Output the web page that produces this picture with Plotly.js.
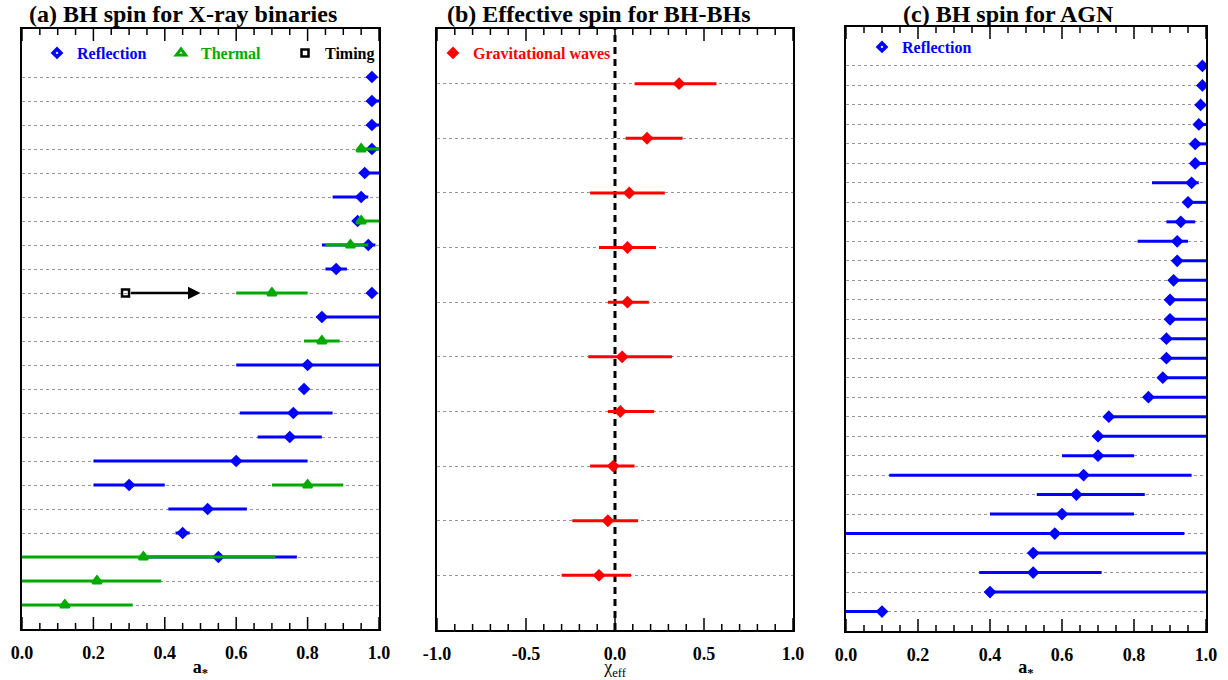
<!DOCTYPE html>
<html>
<head>
<meta charset="utf-8">
<script src="https://cdn.plot.ly/plotly-3.0.1.min.js"></script>
<style>html,body{margin:0;padding:0;background:#fff;}#chart{width:1228px;height:680px;}</style>
</head>
<body>
<div id="chart"></div>
<script>
// ---------- Panel (a): BH spin for X-ray binaries ----------
const xrbRows = [1,2,3,4,5,6,7,8,9,10,11,12,13,14,15,16,17,18,19,20,21,22,23];
const xrbYRange = [0, 25];

const reflRowsA  = [3, 4, 5, 6, 7, 8, 9, 10, 11, 13, 14, 15, 16, 17, 18, 19, 20, 21, 22, 23];
const reflValA   = [0.55, 0.45, 0.52, 0.30, 0.60, 0.75, 0.76, 0.79, 0.80, 0.84, 0.98, 0.88, 0.97, 0.94, 0.95, 0.96, 0.98, 0.98, 0.98, 0.98];
const reflMinusA = [0.22, 0.02, 0.11, 0.10, 0.40, 0.09, 0.15, 0.01, 0.20, 0.01, 0.01, 0.03, 0.13, 0.01, 0.08, 0.01, 0.01, 0.01, 0.01, 0.01];
const reflPlusA  = [0.22, 0.02, 0.11, 0.10, 0.20, 0.09, 0.11, 0.01, 0.20, 0.16, 0.01, 0.03, 0.02, 0.01, 0.02, 0.04, 0.02, 0.02, 0.02, 0.01];

const thermRows  = [1, 2, 3, 6, 12, 14, 16, 17, 20];
const thermVal   = [0.12, 0.21, 0.34, 0.80, 0.84, 0.70, 0.92, 0.95, 0.95];
const thermMinus = [0.12, 0.21, 0.34, 0.10, 0.05, 0.10, 0.07, 0.01, 0.01];
const thermPlus  = [0.19, 0.18, 0.37, 0.10, 0.05, 0.10, 0.05, 0.05, 0.05];

const timingRows     = [14];
const timingVal      = [0.29];
const timingArrowEnd = [0.50];

// ---------- Panel (b): Effective spin for BH-BHs ----------
const gwRows  = [1, 2, 3, 4, 5, 6, 7, 8, 9, 10];
const gwYRange = [0, 11];
const gwVal   = [-0.09, -0.04, -0.01, 0.03, 0.04, 0.07, 0.07, 0.08, 0.18, 0.36];
const gwMinus = [0.21, 0.20, 0.13, 0.07, 0.19, 0.11, 0.16, 0.22, 0.12, 0.25];
const gwPlus  = [0.18, 0.17, 0.12, 0.19, 0.28, 0.12, 0.16, 0.20, 0.20, 0.21];
const chiZero = 0;

// ---------- Panel (c): BH spin for AGN ----------
const agnRows  = [1,2,3,4,5,6,7,8,9,10,11,12,13,14,15,16,17,18,19,20,21,22,23,24,25,26,27,28,29];
const agnYRange = [0, 31];
const agnVal   = [0.10, 0.40, 0.52, 0.52, 0.58, 0.60, 0.64, 0.66, 0.70, 0.70, 0.73, 0.84, 0.88, 0.89, 0.89, 0.90, 0.90, 0.91, 0.92, 0.92, 0.93, 0.95, 0.96, 0.97, 0.97, 0.98, 0.985, 0.99, 0.99];
const agnMinus = [0.10, 0.01, 0.15, 0.01, 0.58, 0.20, 0.11, 0.54, 0.10, 0.01, 0.01, 0.01, 0.01, 0.01, 0.01, 0.01, 0.01, 0.01, 0.01, 0.11, 0.04, 0.01, 0.11, 0.01, 0.01, 0.01, 0.005, 0.005, 0.005];
const agnPlus  = [0.01, 0.60, 0.19, 0.48, 0.36, 0.20, 0.19, 0.30, 0.10, 0.30, 0.27, 0.16, 0.12, 0.11, 0.11, 0.10, 0.10, 0.09, 0.08, 0.03, 0.04, 0.05, 0.02, 0.03, 0.03, 0.02, 0.01, 0.01, 0.01];

// ---------- Tick labels ----------
const spinTickVals = [0, 0.2, 0.4, 0.6, 0.8, 1.0];
const spinTickText = ['0.0', '0.2', '0.4', '0.6', '0.8', '1.0'];
const chiTickVals  = [-1, -0.5, 0, 0.5, 1];
const chiTickText  = ['-1.0', '-0.5', '0.0', '0.5', '1.0'];

const BLUE = 'rgb(0,0,255)';
const GREEN = 'rgb(0,170,0)';
const RED = 'rgb(255,0,0)';
const SERIF = 'Liberation Serif';

function errX(plus, minus, color) {
  return {type: 'data', symmetric: false, array: plus, arrayminus: minus,
          width: 0, thickness: 3, color: color};
}

const traces = [
  {x: reflValA, y: reflRowsA, xaxis: 'x', yaxis: 'y', mode: 'markers', type: 'scatter',
   name: '<span style="color:rgb(0,0,255)">Reflection</span>', legend: 'legend',
   marker: {symbol: 'diamond-open', size: 6, color: BLUE, line: {width: 3.5, color: BLUE}},
   error_x: errX(reflPlusA, reflMinusA, BLUE)},
  {x: thermVal, y: thermRows, xaxis: 'x', yaxis: 'y', mode: 'markers', type: 'scatter',
   name: '<span style="color:rgb(0,170,0)">Thermal</span>', legend: 'legend',
   marker: {symbol: 'triangle-up-open', size: 8, color: GREEN, line: {width: 3, color: GREEN}},
   error_x: errX(thermPlus, thermMinus, GREEN)},
  {x: timingVal, y: timingRows, xaxis: 'x', yaxis: 'y', mode: 'markers', type: 'scatter',
   name: '<span style="color:black">Timing</span>', legend: 'legend',
   marker: {symbol: 'square-open', size: 7, color: 'black', line: {width: 2.5, color: 'black'}}},
  {x: gwVal, y: gwRows, xaxis: 'x2', yaxis: 'y2', mode: 'markers', type: 'scatter',
   name: '<span style="color:rgb(255,0,0)">Gravitational waves</span>', legend: 'legend2',
   marker: {symbol: 'diamond-open', size: 5, color: RED, line: {width: 4.5, color: RED}},
   error_x: errX(gwPlus, gwMinus, RED)},
  {x: agnVal, y: agnRows, xaxis: 'x3', yaxis: 'y3', mode: 'markers', type: 'scatter',
   name: '<span style="color:rgb(0,0,255)">Reflection</span>', legend: 'legend3',
   marker: {symbol: 'diamond-open', size: 6, color: BLUE, line: {width: 3.5, color: BLUE}},
   error_x: errX(agnPlus, agnMinus, BLUE)}
];

function xAxis(domain, range, tickvals, ticktext, anchor, title, titleWeight) {
  return {
    domain: domain, range: range, anchor: anchor,
    tickmode: 'array', tickvals: tickvals, ticktext: ticktext,
    ticks: '', showline: true, linewidth: 2, linecolor: 'black', mirror: true,
    showgrid: false, zeroline: false,
    tickfont: {family: SERIF, size: 18, color: 'black', weight: 'bold'},
    ticklabelstandoff: 6,
    title: {text: title, standoff: 4, font: {family: SERIF, size: 18, color: 'black', weight: titleWeight}}
  };
}
function yAxis(domain, range, rows, anchor) {
  return {
    domain: domain, range: range, anchor: anchor,
    tickmode: 'array', tickvals: rows, showticklabels: false, ticks: '',
    showgrid: true, gridcolor: 'rgb(150,150,150)', gridwidth: 1, griddash: 'dot',
    showline: true, linewidth: 2, linecolor: 'black', mirror: true, zeroline: false
  };
}

const W = 1228, H = 680;
const layout = {
  width: W, height: H,
  margin: {l: 0, r: 0, t: 0, b: 0, autoexpand: false},
  paper_bgcolor: 'white', plot_bgcolor: 'white',
  font: {family: SERIF, color: 'black'},
  xaxis:  xAxis([22/W, 379/W], [0, 1], spinTickVals, spinTickText, 'y', 'a<sub>*</sub>', 'bold'),
  yaxis:  yAxis([1 - 629/H, 1 - 29/H], xrbYRange, xrbRows, 'x'),
  xaxis2: xAxis([437/W, 793/W], [-1, 1], chiTickVals, chiTickText, 'y2', 'χ<sub>eff</sub>', 'normal'),
  yaxis2: yAxis([1 - 630/H, 1 - 29/H], gwYRange, gwRows, 'x2'),
  xaxis3: xAxis([846/W, 1206/W], [0, 1], spinTickVals, spinTickText, 'y3', 'a<sub>*</sub>', 'bold'),
  yaxis3: yAxis([1 - 631/H, 1 - 27/H], agnYRange, agnRows, 'x3'),
  legend: {orientation: 'h', x: 37/W, xanchor: 'left', y: 1 - 53/H, yanchor: 'middle',
           entrywidth: 79, bgcolor: 'rgba(0,0,0,0)', borderwidth: 0,
           font: {family: SERIF, size: 16, weight: 'bold'}},
  legend2: {orientation: 'h', x: 433/W, xanchor: 'left', y: 1 - 53/H, yanchor: 'middle',
           bgcolor: 'rgba(0,0,0,0)', borderwidth: 0,
           font: {family: SERIF, size: 16, weight: 'bold'}},
  legend3: {orientation: 'h', x: 862/W, xanchor: 'left', y: 1 - 47/H, yanchor: 'middle',
           bgcolor: 'rgba(0,0,0,0)', borderwidth: 0,
           font: {family: SERIF, size: 16, weight: 'bold'}},
  shapes: [
    {type: 'line', xref: 'x2', yref: 'y2', x0: chiZero, x1: chiZero, y0: gwYRange[0], y1: gwYRange[1],
     layer: 'below', line: {color: 'black', width: 3, dash: '7px,5px'}}
  ],
  annotations: [
    {xref: 'paper', yref: 'paper', x: 27/W, y: 1 - 14/H, xanchor: 'left', yanchor: 'middle', showarrow: false,
     text: '(a) BH spin for X-ray binaries', font: {family: SERIF, size: 24, color: 'black', weight: 'bold'}},
    {xref: 'paper', yref: 'paper', x: 445/W, y: 1 - 14/H, xanchor: 'left', yanchor: 'middle', showarrow: false,
     text: '(b) Effective spin for BH-BHs', font: {family: SERIF, size: 24, color: 'black', weight: 'bold'}},
    {xref: 'paper', yref: 'paper', x: 901/W, y: 1 - 14/H, xanchor: 'left', yanchor: 'middle', showarrow: false,
     text: '(c) BH spin for AGN', font: {family: SERIF, size: 24, color: 'black', weight: 'bold'}}
  ]
};

// Inward tick marks (major + minor) on the bottom and top edges of each panel,
// placed in axis data coordinates from the tick arrays / axis ranges.
function addTicks(xref, yref, range, majorVals) {
  const step = (range[1] - range[0]) / 20;
  for (let k = 0; k <= 20; k++) {
    const v = range[0] + k * step;
    const isMajor = majorVals.some(function (m) { return Math.abs(m - v) < 1e-9; });
    const len = isMajor ? 12 : 6;
    [[0, 0, len], [1, -len, 0]].forEach(function (s) {
      layout.shapes.push({type: 'line', xref: xref, yref: yref + ' domain', ysizemode: 'pixel',
        yanchor: s[0], x0: v, x1: v, y0: s[1], y1: s[2], layer: 'above',
        line: {color: 'black', width: 1.5}});
    });
  }
}
addTicks('x', 'y', [0, 1], spinTickVals);
addTicks('x2', 'y2', [-1, 1], chiTickVals);
addTicks('x3', 'y3', [0, 1], spinTickVals);

// Timing lower-limit arrow(s), built from the timing arrays
timingVal.forEach(function (v, i) {
  layout.annotations.push({
    xref: 'x', yref: 'y', axref: 'x', ayref: 'y',
    x: timingArrowEnd[i], y: timingRows[i], ax: v, ay: timingRows[i],
    text: '', showarrow: true, arrowhead: 2, arrowsize: 1, arrowwidth: 2.5, arrowcolor: 'black',
    standoff: 0, startstandoff: 4
  });
});

Plotly.newPlot('chart', traces, layout, {displayModeBar: false});
</script>
</body>
</html>
